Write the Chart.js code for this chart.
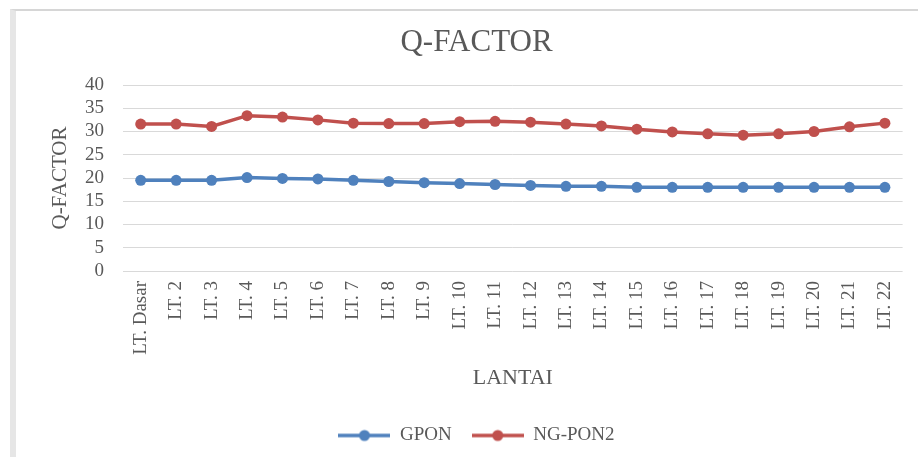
<!DOCTYPE html>
<html>
<head>
<meta charset="utf-8">
<script src="https://cdn.jsdelivr.net/npm/chart.js@4.4.1/dist/chart.umd.min.js"></script>
<style>
  html, body { margin: 0; padding: 0; background: #fff; }
  #wrap { position: relative; width: 918px; height: 457px; overflow: hidden; }
  #frame { position: absolute; left: 10px; top: 9px; right: -5px; bottom: -5px;
           border-left: 6px solid #e6e6e6; border-top: 2px solid #d6d6d6; pointer-events: none; }
  canvas { position: absolute; left: 0; top: 0; }
</style>
</head>
<body>
<div id="wrap">
  <canvas id="c" width="918" height="457"></canvas>
  <div id="frame"></div>
</div>
<script>
const categories = ['LT. Dasar','LT. 2','LT. 3','LT. 4','LT. 5','LT. 6','LT. 7','LT. 8','LT. 9','LT. 10','LT. 11',
  'LT. 12','LT. 13','LT. 14','LT. 15','LT. 16','LT. 17','LT. 18','LT. 19','LT. 20','LT. 21','LT. 22'];
const gponValues = [19.5,19.5,19.5,20.1,19.9,19.8,19.5,19.25,19.0,18.8,18.6,18.4,18.2,18.2,18.0,18.0,18.0,18.0,18.0,18.0,18.0,18.0];
const ngpon2Values = [31.6,31.6,31.1,33.4,33.1,32.5,31.8,31.7,31.7,32.1,32.2,32.0,31.6,31.2,30.5,29.9,29.5,29.2,29.5,30.0,31.0,31.8];
const yTicks = [0,5,10,15,20,25,30,35,40];
const seriesNames = ['GPON','NG-PON2'];
const seriesColors = ['#4F81BD','#C0504D'];

const textColor = '#595959';
const serif = "'Liberation Serif', 'Times New Roman', serif";

function legendSymbol(color) {
  const cv = document.createElement('canvas');
  cv.width = 52; cv.height = 14;
  const g = cv.getContext('2d');
  g.strokeStyle = color; g.lineWidth = 3.5;
  g.beginPath(); g.moveTo(0, 7); g.lineTo(52, 7); g.stroke();
  g.fillStyle = color;
  g.beginPath(); g.arc(26, 7, 5.5, 0, Math.PI * 2); g.fill();
  return cv;
}

const seriesData = [gponValues, ngpon2Values];
const datasets = seriesData.map((vals, i) => ({
  label: seriesNames[i],
  data: vals,
  borderColor: seriesColors[i],
  backgroundColor: seriesColors[i],
  borderWidth: 3.5,
  pointRadius: 5.5,
  pointHoverRadius: 5.5,
  pointBackgroundColor: seriesColors[i],
  pointBorderWidth: 0,
  pointStyle: 'circle',
  _legendSym: legendSymbol(seriesColors[i]),
  tension: 0,
  fill: false
}));

new Chart(document.getElementById('c'), {
  type: 'line',
  data: { labels: categories, datasets },
  options: {
    responsive: false,
    animation: false,
    devicePixelRatio: 1,
    layout: { padding: { left: 48, right: 13, top: 6, bottom: 2 } },
    plugins: {
      title: {
        display: true, text: 'Q-FACTOR', color: textColor,
        font: { family: serif, size: 31, weight: 'normal' },
        padding: { top: 18.4, bottom: 23.4 }
      },
      legend: {
        position: 'bottom',
        labels: {
          usePointStyle: true,
          pointStyleWidth: 52,
          padding: 20,
          color: textColor,
          font: { family: serif, size: 19 },
          generateLabels(chart) {
            return chart.data.datasets.map((d, i) => ({
              text: d.label, fillStyle: d.borderColor, strokeStyle: d.borderColor,
              fontColor: textColor, lineWidth: 0, pointStyle: d._legendSym,
              hidden: false, datasetIndex: i
            }));
          }
        }
      },
      tooltip: { enabled: false }
    },
    scales: {
      x: {
        offset: true,
        grid: { display: false, drawTicks: false },
        border: { display: false },
        ticks: {
          color: textColor, font: { family: serif, size: 19 },
          minRotation: 90, maxRotation: 90, autoSkip: false, padding: 10
        },
        title: {
          display: true, text: 'LANTAI', color: textColor,
          font: { family: serif, size: 22 }, padding: { top: 0, bottom: 14.8 }
        },
        afterFit(scale) { scale.height = 135; }
      },
      y: {
        min: 0, max: 40,
        afterBuildTicks(scale) { scale.ticks = yTicks.map(v => ({ value: v })); },
        grid: { color: '#d9d9d9', lineWidth: 1, drawTicks: false },
        border: { display: false },
        ticks: { color: textColor, font: { family: serif, size: 19 }, padding: 19, autoSkip: false },
        title: {
          display: true, text: 'Q-FACTOR', color: textColor,
          font: { family: serif, size: 21 }, padding: { top: 0, bottom: 0 }
        },
        afterFit(scale) { scale.width = 75; }
      }
    }
  }
});
</script>
</body>
</html>
